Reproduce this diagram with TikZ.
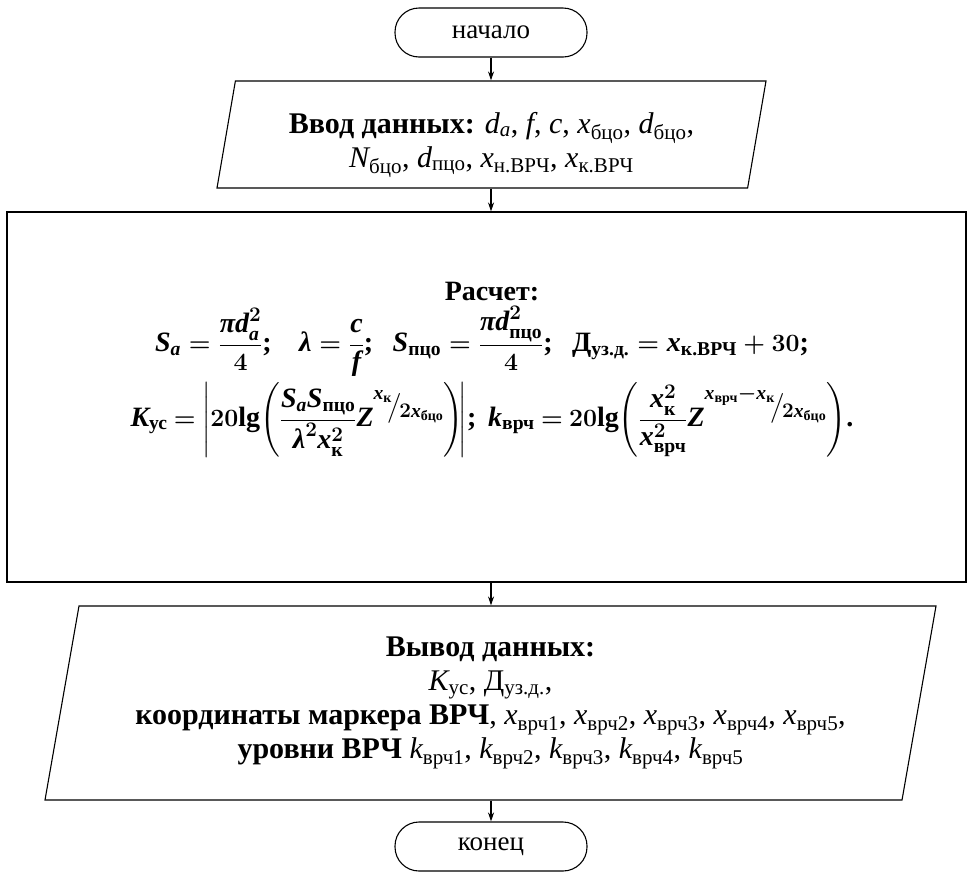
\documentclass[tikz,border=0pt]{standalone}
\usepackage{amsmath}
\usepackage{fontspec}
\setmainfont{Liberation Serif}
\usetikzlibrary{shapes.geometric}
\usetikzlibrary{arrows.meta}

\newcommand\vi[1]{\textit{#1}}
\newcommand\slf[2]{\raisebox{0.55em}{$\scriptstyle #1$}\kern-0.15em\big/\kern-0.1em\raisebox{-0.1em}{$\scriptstyle #2$}}

\begin{document}
\begin{tikzpicture}[x=1pt,y=-1pt,
  base/.style={draw,line width=1.1pt,align=center,font=\fontsize{30}{34}\selectfont},
  term/.style={base,font=\fontsize{27}{32}\selectfont,rounded corners=24pt,minimum width=192pt,minimum height=49pt,inner sep=0pt},
  io/.style={base,trapezium,trapezium stretches body,inner sep=0pt},
  proc/.style={base,minimum width=959pt,minimum height=370pt},
  calcline/.style={align=center,inner sep=0pt,font=\fontsize{28}{34}\selectfont\bfseries\boldmath},
  arr/.style={line width=1.1pt,-{Stealth[length=9pt,width=6pt]}}]
\useasboundingbox (0,0) rectangle (968,871);
\node[term] (start) at (491,32.5) {начало};
\node[io,trapezium left angle=78,trapezium right angle=102,
  minimum width=549pt,minimum height=107pt] (in) at (491.5,134.5)
  {\rule{0pt}{42pt}\textbf{Ввод данных:} $\vi{d}_{\vi{a}}$, $\vi{f}$, $\vi{c}$, $\vi{x}_{\text{бцо}}$, $\vi{d}_{\text{бцо}}$,\\
   $\vi{N}_{\text{бцо}}$, $\vi{d}_{\text{пцо}}$, $\vi{x}_{\text{н.ВРЧ}}$, $\vi{x}_{\text{к.ВРЧ}}$};
\node[proc] (calc) at (486.5,397) {};
\node[calcline] (calctitle) at (492,292) {Расчет:};
\node[calcline] (calcone) at (482,341)
  {$\vi{S}_{\vi{a}} = \dfrac{\vi{π}\vi{d}_{\vi{a}}^{2}}{4}$;\;\;\, $\vi{λ} = \dfrac{\vi{c}}{\vi{f}}$;\;\, $\vi{S}_{\text{пцо}} = \dfrac{\vi{π}\vi{d}_{\text{пцо}}^{2}}{4}$;\;\, Д$_{\text{уз.д.}} = \vi{x}_{\text{к.ВРЧ}} + 30$;};
\node[calcline] (calctwo) at (492,420)
  {\thickmuskip=4mu plus 2mu
   $\vi{K}_{\text{ус}} = \left|20\text{lg}\!\left(\dfrac{\vi{S}_{\vi{a}}\vi{S}_{\text{пцо}}}{\vi{λ}^{2}\vi{x}_{\text{к}}^{2}}\vi{Z}^{\slf{\vi{x}_{\text{к}}}{2\vi{x}_{\text{бцо}}}}\right)\!\right|$;\,
   $\vi{k}_{\text{врч}} = 20\text{lg}\!\left(\dfrac{\vi{x}_{\text{к}}^{2}}{\vi{x}_{\text{врч}}^{2}}\vi{Z}^{\slf{\vi{x}_{\text{врч}}-\vi{x}_{\text{к}}}{2\vi{x}_{\text{бцо}}}}\right)$.};
\node[io,trapezium left angle=75.5,trapezium right angle=104.5,
  minimum width=891pt,minimum height=194pt] (out) at (490.5,703)
  {\textbf{Вывод данных:}\\
   $\vi{K}_{\text{ус}}$, Д$_{\text{уз.д.}}$,\\
   \textbf{координаты маркера ВРЧ}, $\vi{x}_{\text{врч1}}$, $\vi{x}_{\text{врч2}}$, $\vi{x}_{\text{врч3}}$, $\vi{x}_{\text{врч4}}$, $\vi{x}_{\text{врч5}}$,\\
   \textbf{уровни ВРЧ} $\vi{k}_{\text{врч1}}$, $\vi{k}_{\text{врч2}}$, $\vi{k}_{\text{врч3}}$, $\vi{k}_{\text{врч4}}$, $\vi{k}_{\text{врч5}}$};
\node[term] (stop) at (491,846.5) {конец};
\draw[arr] (start.south) -- (start.south |- in.north);
\draw[arr] (in.south -| start) -- (calc.north -| start);
\draw[arr] (calc.south -| start) -- (out.north -| start);
\draw[arr] (out.south -| start) -- (stop.north);
\end{tikzpicture}
\end{document}
